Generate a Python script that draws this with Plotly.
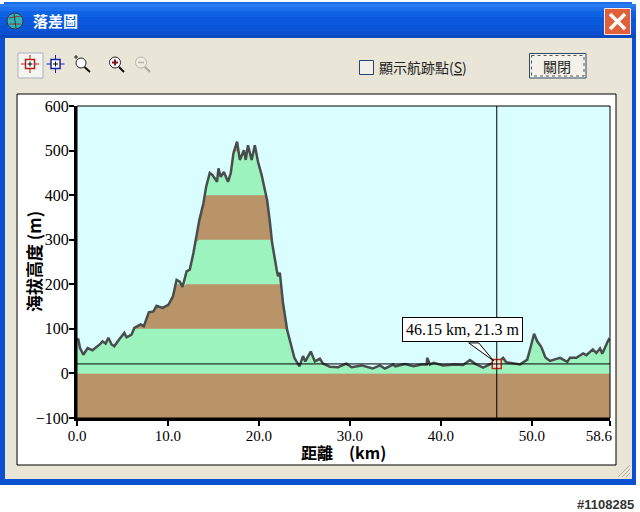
import plotly.graph_objects as go

# ---------- data ----------
distance_km = [0.0, 0.15, 0.33, 0.7, 1.17, 1.7, 2.5, 2.8, 3.15, 3.45, 3.8, 4.1, 4.55, 5.2, 5.45, 6.0, 6.3, 7.0, 7.35,
               7.65, 7.9, 8.4, 8.75, 9.4, 10.05, 10.55, 10.95, 11.3, 11.6, 12.05, 12.4, 12.8, 13.0, 13.45, 13.9, 14.2,
               14.6, 14.9, 15.4, 15.55, 15.8, 16.15, 16.6, 16.9, 17.2, 17.6, 17.9, 18.35, 18.55, 18.8, 19.2, 19.55,
               19.9, 20.3, 20.65, 20.9, 21.2, 21.45, 21.95, 22.1, 22.3, 22.65, 23.1, 23.5, 23.9, 24.45, 24.85, 25.1,
               25.7, 26.15, 26.7, 27.05, 27.8, 28.7, 29.6, 30.2, 31.3, 32.5, 33.3, 33.85, 34.75, 35.0, 36.05, 37.0,
               37.9, 38.45, 38.5, 38.8, 39.2, 40.25, 41.55, 42.45, 43.2, 43.75, 44.65, 45.55, 46.15, 46.85, 47.2,
               48.7, 49.5, 49.9, 50.25, 50.6, 51.05, 51.5, 52.0, 53.1, 53.9, 54.2, 54.9, 55.65, 56.0, 56.7, 57.1,
               57.5, 57.75, 58.2, 58.45, 58.6]
elevation_m = [76, 76, 57, 42, 57, 52, 65, 72, 67, 80, 65, 61, 74, 91, 81, 87, 102, 110, 106,
               121, 137, 139, 152, 147, 154, 173, 210, 206, 194, 229, 233, 270, 293, 344, 382, 419,
               450, 445, 430, 460, 441, 452, 430, 449, 494, 520, 479, 501, 479, 512, 479, 512,
               475, 445, 412, 389, 341, 293, 233, 218, 226, 158, 98, 69, 35, 16, 39, 27,
               49, 27, 33, 22, 15, 14, 22, 14, 18, 11, 18, 11, 20, 16, 21, 16,
               20, 20, 35, 20, 24, 18, 20, 19, 30, 22, 13, 22, 21.3, 35, 25,
               20, 31, 61, 89, 72, 59, 36, 28, 35, 26, 35, 35, 45, 41, 54, 46,
               56, 44, 65, 76, 72]
band_tops = [600, 500, 400, 300, 200, 100]
band_colors = ["#B89468", "#9DF3BE", "#B89468", "#9DF3BE", "#B89468", "#9DF3BE"]
x_ticks = [0, 10, 20, 30, 40, 50, 58.6]
x_tick_labels = ["0.0", "10.0", "20.0", "30.0", "40.0", "50.0", "58.6\u00a0\u00a0\u00a0\u00a0\u00a0\u00a0"]
y_ticks = [-100, 0, 100, 200, 300, 400, 500, 600]
cursor_km = 46.15
cursor_m = 21.3
x_range = [0, 58.6]
y_range = [-100, 600]

W, H = 640, 512
SERIF = "Liberation Serif"
CJK = "Noto Sans CJK TC"


def px(x):
    return x / W


def py(y):
    return 1 - y / H


shapes = []


def rect(x0, y0, x1, y1, fill, line=None, lw=1, layer="below", dash=None):
    ln = dict(color=line or fill, width=lw if line else 0)
    if dash:
        ln["dash"] = dash
    shapes.append(dict(type="rect", xref="paper", yref="paper", x0=px(x0), x1=px(x1), y0=py(y0), y1=py(y1),
                       fillcolor=fill, line=ln, layer=layer))


def seg(x0, y0, x1, y1, color, lw=1):
    shapes.append(dict(type="line", xref="paper", yref="paper", x0=px(x0), x1=px(x1), y0=py(y0), y1=py(y1),
                       line=dict(color=color, width=lw), layer="above"))


def circ(cx, cy, r, fill, line, lw=1):
    shapes.append(dict(type="circle", xref="paper", yref="paper", x0=px(cx - r), x1=px(cx + r), y0=py(cy - r),
                       y1=py(cy + r), fillcolor=fill, line=dict(color=line, width=lw), layer="above"))


# window frame
rect(0, 6, 636, 485, "#0A50D0")
rect(5, 37, 632, 479, "#E9E6D7")
# title bar gradient
title_rows = [(2, "#1C6BE8"), (4, "#2A7DF0"), (7, "#1C70EC"), (11, "#0E62E4"), (17, "#0A58DC"), (25, "#0A54D8"),
              (31, "#0B4FD0"), (35, "#0A48C0")]
for i, (y0, c) in enumerate(title_rows):
    y1 = title_rows[i + 1][0] if i + 1 < len(title_rows) else 38
    rect(4 if y0 < 4 else 0, y0, 632 if y0 < 4 else 636, y1, c)
# white plot panel
rect(17, 94, 616, 465, "white", "black", 1)
# resize grip
for d in (4, 8, 12):
    seg(630 - d, 477, 630, 477 - d, "#B5B2A3", 1)

# close button
shapes.append(dict(type="rect", xref="paper", yref="paper", x0=px(604.5), x1=px(630.5), y0=py(8.5), y1=py(34.5),
                   fillcolor="#E0603A", line=dict(color="#F4E8E0", width=1), layer="above"))
seg(610, 14, 625, 29, "white", 3.5)
seg(625, 14, 610, 29, "white", 3.5)

# globe icon
circ(15, 21, 8, "#2FB5B5", "#333344", 1)
seg(9, 18, 21, 16, "#9A3030", 1)
seg(9, 24, 21, 24, "#9A3030", 1)
seg(14, 14, 16, 28, "#303050", 1)

# toolbar button + icons
shapes.append(dict(type="rect", xref="paper", yref="paper", x0=px(18), x1=px(43), y0=py(53), y1=py(78),
                   fillcolor="#F6F5EF", line=dict(color="#A9B0BE", width=1), layer="below"))


def cross_icon(cx, cy, col, arm=9):
    seg(cx - arm, cy, cx + arm, cy, col)
    seg(cx, cy - arm, cx, cy + arm, col)
    rect(cx - 4.5, cy - 4.5, cx + 4.5, cy + 4.5, "white", col, 1.5, layer="above")
    seg(cx - 2.5, cy, cx + 2.5, cy, "black")
    seg(cx, cy - 2.5, cx, cy + 2.5, "black")


cross_icon(30, 64, "#B02020")
cross_icon(55.5, 64, "#1820A8")

circ(81, 63, 5, "white", "#222222", 1)
seg(84.5, 67, 90, 72, "#111111", 2)
seg(74, 57, 78, 57, "#222222")
seg(76, 55, 76, 59, "#222222")

circ(115, 62.5, 5.5, "white", "#222222", 1)
seg(119, 67, 124, 72, "#111111", 2)
seg(112, 62.5, 118, 62.5, "#801020", 2)
seg(115, 59.5, 115, 65.5, "#801020", 2)

circ(141, 62.5, 5.5, "#EFEDE2", "#B5B5A8", 1)
seg(145, 67, 150, 72, "#A8A89C", 2)
seg(138, 62.5, 144, 62.5, "#B5B5A8", 1.5)

# checkbox and close button
rect(359.5, 60.5, 373.5, 74.5, "#F0EFE8", "#24456E", 1)
rect(529.5, 53.5, 586, 78, "#F3F2EA", "#2E4A6A", 1)
rect(531.5, 55.5, 584, 76, "rgba(0,0,0,0)", "#555555", 1, dash="dot")

# plot background (above the white panel)
shapes.append(dict(type="rect", xref="x domain", yref="y domain", x0=0, x1=1, y0=0, y1=1,
                   fillcolor="#DAFDFF", line=dict(width=0), layer="below"))
# sub-zero ground
shapes.append(dict(type="rect", xref="x", yref="y", x0=x_range[0], x1=x_range[1], y0=y_range[0], y1=0,
                   fillcolor="#B89468", line=dict(width=0), layer="below"))
# plot border (thin top and right)
shapes.append(dict(type="rect", xref="x domain", yref="y domain", x0=0, x1=1, y0=0, y1=1,
                   fillcolor="rgba(0,0,0,0)", line=dict(color="black", width=1), layer="above"))
# callout wedge, anchored on the cursor point
shapes.append(dict(type="path", xref="x", yref="y", xsizemode="pixel", ysizemode="pixel",
                   xanchor=cursor_km, yanchor=cursor_m, path="M -3 3 L -28 21 L -18 21 Z",
                   fillcolor="white", line=dict(color="black", width=1), layer="above"))

fig = go.Figure()
for top, color in zip(band_tops, band_colors):
    fig.add_trace(go.Scatter(x=distance_km, y=[min(e, top) for e in elevation_m], mode="lines",
                             line=dict(width=0), fill="tozeroy", fillcolor=color, hoverinfo="skip", showlegend=False))
fig.add_trace(go.Scatter(x=distance_km, y=elevation_m, mode="lines", line=dict(color="#484E4E", width=2.5),
                         showlegend=False))
# cursor cross-hair
fig.add_trace(go.Scatter(x=x_range, y=[cursor_m, cursor_m], mode="lines", line=dict(color="black", width=1),
                         showlegend=False))
fig.add_trace(go.Scatter(x=[cursor_km, cursor_km], y=y_range, mode="lines", line=dict(color="black", width=1),
                         showlegend=False))
fig.add_trace(go.Scatter(x=[cursor_km], y=[cursor_m], mode="markers",
                         marker=dict(symbol="square", size=9, color="#F8E8D8", line=dict(color="#C02818", width=1.5)),
                         showlegend=False))
fig.add_trace(go.Scatter(x=[cursor_km], y=[cursor_m], mode="markers",
                         marker=dict(symbol="cross-thin", size=7, line=dict(color="black", width=1)),
                         showlegend=False))

annotations = [
    dict(x=cursor_km, y=cursor_m, xref="x", yref="y", text=f"{cursor_km} km, {cursor_m} m", showarrow=True,
         ax=-34.5, ay=-34, arrowhead=0, arrowwidth=1, arrowcolor="rgba(0,0,0,0)", bgcolor="white", bordercolor="black",
         borderwidth=1, borderpad=3, font=dict(family=SERIF, size=16, color="black")),
    dict(x=px(31), y=py(20), xref="paper", yref="paper", xanchor="left", yanchor="middle", showarrow=False,
         text="<b>落差圖</b>", font=dict(family=CJK, size=15, color="white")),
    dict(x=px(377), y=py(67), xref="paper", yref="paper", xanchor="left", yanchor="middle", showarrow=False,
         text="顯示航跡點(<u>S</u>)", font=dict(family=CJK, size=14, color="#222222")),
    dict(x=px(557), y=py(66), xref="paper", yref="paper", xanchor="center", yanchor="middle", showarrow=False,
         text="關閉", font=dict(family=CJK, size=14, color="#222222")),
    dict(x=px(636), y=py(504), xref="paper", yref="paper", xanchor="right", yanchor="middle", showarrow=False,
         text="<b>#1108285</b>", font=dict(family="Liberation Sans", size=13, color="#333333")),
    dict(x=px(343), y=py(452), xref="paper", yref="paper", xanchor="center", yanchor="middle", showarrow=False,
         text="<b>距離　(km)</b>", font=dict(family=CJK, size=16, color="black")),
    dict(x=px(33), y=py(262), xref="paper", yref="paper", xanchor="center", yanchor="middle", showarrow=False,
         textangle=-90, text="<b>海拔高度 (m)</b>", font=dict(family=CJK, size=17, color="black")),
]

fig.update_layout(
    width=W, height=H, autosize=False, margin=dict(l=0, r=0, t=0, b=0),
    paper_bgcolor="white", plot_bgcolor="#DAFDFF", showlegend=False,
    shapes=shapes, annotations=annotations, hovermode=False,
    xaxis=dict(domain=[px(77), px(610)], range=x_range, tickmode="array", tickvals=x_ticks, ticktext=x_tick_labels,
               automargin=False, ticks="outside", ticklen=5, tickwidth=2, tickcolor="black", showline=True,
               linecolor="black", linewidth=3, showgrid=False, zeroline=False, ticklabelstandoff=-3,
               tickfont=dict(family=SERIF, size=15, color="black")),
    yaxis=dict(domain=[py(418), py(106)], range=y_range, tickmode="array", tickvals=y_ticks,
               automargin=False, ticks="outside", ticklen=5, tickwidth=2, tickcolor="black", showline=True,
               linecolor="black", linewidth=3, showgrid=False, zeroline=False, ticklabelstandoff=-3,
               tickfont=dict(family=SERIF, size=16, color="black")),
)

fig.write_html("out.html", config=dict(displayModeBar=False),
               post_script="document.body.style.margin='0';document.body.style.overflow='hidden';")
